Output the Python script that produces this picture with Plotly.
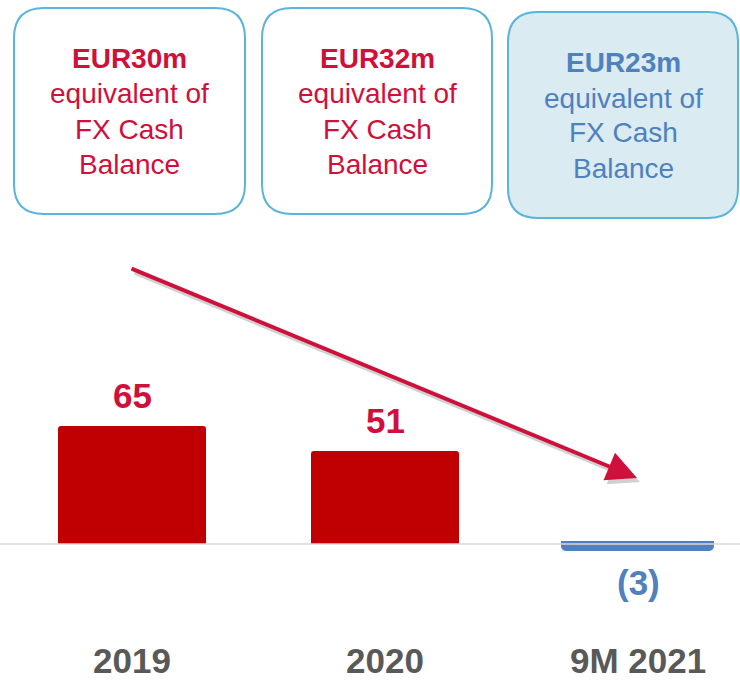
import plotly.graph_objects as go

# ---- data ----
categories = ["2019", "2020", "9M 2021"]
values = [65, 51, -3]
value_labels = ["65", "51", "(3)"]
fx_cash = ["EUR30m", "EUR32m", "EUR23m"]
fx_sub = ["equivalent of", "FX Cash", "Balance"]

W, H = 740, 681
RED = "#C00000"
BLUE = "#4F81BD"
TXT_RED = "#D0103A"
TXT_BLUE = "#4F81BD"
GRAY = "#595959"
FONT = "Liberation Sans"

bar_colors = [RED, RED, BLUE]
label_colors = [TXT_RED, TXT_RED, TXT_BLUE]


def px(x):
    return x / W


def py(y):
    return 1 - y / H


def rounded_rect(x0, y0, x1, y1, r):
    rx, ry = r / W, r / H
    X0, X1 = px(x0), px(x1)
    Y0, Y1 = py(y0), py(y1)  # Y0 top (larger), Y1 bottom
    return (
        f"M {X0+rx},{Y0} L {X1-rx},{Y0} Q {X1},{Y0} {X1},{Y0-ry} "
        f"L {X1},{Y1+ry} Q {X1},{Y1} {X1-rx},{Y1} "
        f"L {X0+rx},{Y1} Q {X0},{Y1} {X0},{Y1+ry} "
        f"L {X0},{Y0-ry} Q {X0},{Y0} {X0+rx},{Y0} Z"
    )


idx = list(range(len(categories)))

fig = go.Figure()
fig.add_trace(go.Bar(
    x=idx, y=values,
    marker=dict(color=bar_colors,
                line=dict(width=[0, 0, 5], color=bar_colors),
                cornerradius=3),
    width=0.586, hoverinfo="skip",
))

# baseline
fig.add_shape(type="line", xref="paper", yref="y", x0=0, x1=1, y0=0, y1=0,
              line=dict(color="#D9D9D9", width=1.5), layer="above")

# boxes
boxes = [(14, 8, 245, 214), (262, 8, 492, 214), (508, 12, 738, 218)]
fills = ["white", "white", "#DAEBF2"]
for (x0, y0, x1, y1), fc in zip(boxes, fills):
    fig.add_shape(type="path", xref="paper", yref="paper",
                  path=rounded_rect(x0, y0, x1, y1, 30),
                  line=dict(color="#5BB4DA", width=2), fillcolor=fc, layer="below")

annotations = []
for i, ((x0, y0, x1, y1), head) in enumerate(zip(boxes, fx_cash)):
    cx = (x0 + x1) / 2
    c = label_colors[i]
    top = y0 + 50
    annotations.append(dict(xref="paper", yref="paper", x=px(cx), y=py(top),
                            text=f"<b>{head}</b>", showarrow=False,
                            font=dict(family=FONT, size=28, color=c),
                            xanchor="center", yanchor="middle"))
    for j, line in enumerate(fx_sub):
        annotations.append(dict(xref="paper", yref="paper", x=px(cx), y=py(top + 36 + 35 * j),
                                text=line, showarrow=False,
                                font=dict(family=FONT, size=28, color=c),
                                xanchor="center", yanchor="middle"))

# value labels
for i, v, lab, c in zip(idx, values, value_labels, label_colors):
    annotations.append(dict(xref="x", yref="y", x=i, y=v,
                            text=f"<b>{lab}</b>", showarrow=False,
                            font=dict(family=FONT, size=35, color=c),
                            xanchor="center", yanchor="bottom" if v > 0 else "top",
                            yshift=9 if v > 0 else -12))

# category labels
for i, cat in zip(idx, categories):
    annotations.append(dict(xref="x", yref="paper", x=i, y=py(660),
                            text=f"<b>{cat}</b>", showarrow=False,
                            font=dict(family=FONT, size=35, color=GRAY),
                            xanchor="center", yanchor="middle", borderpad=0))

# arrow shadow + arrow
for dx, dy, col in [(3, 4, "rgba(0,0,0,0.18)"), (0, 0, "#D0103A")]:
    annotations.append(dict(xref="paper", yref="paper", x=px(637 + dx), y=py(478 + dy),
                            ax=130 - 637, ay=268 - 478, axref="pixel", ayref="pixel",
                            text="", showarrow=True, arrowhead=2, arrowsize=1.5,
                            arrowwidth=4, arrowcolor=col, standoff=0))

y_per_px = 1 / 1.82
fig.update_layout(
    width=W, height=H,
    margin=dict(l=0, r=0, t=0, b=0),
    paper_bgcolor="white", plot_bgcolor="white",
    showlegend=False,
    xaxis=dict(type="linear", range=[-132 / 253, 2 + (W - 638) / 253], visible=False),
    yaxis=dict(range=[-(H - 544) * y_per_px, 544 * y_per_px], visible=False),
    annotations=annotations,
    bargap=0,
)

fig.write_html("out.html", config={"displayModeBar": False},
               post_script="document.body.style.margin='0px';")
